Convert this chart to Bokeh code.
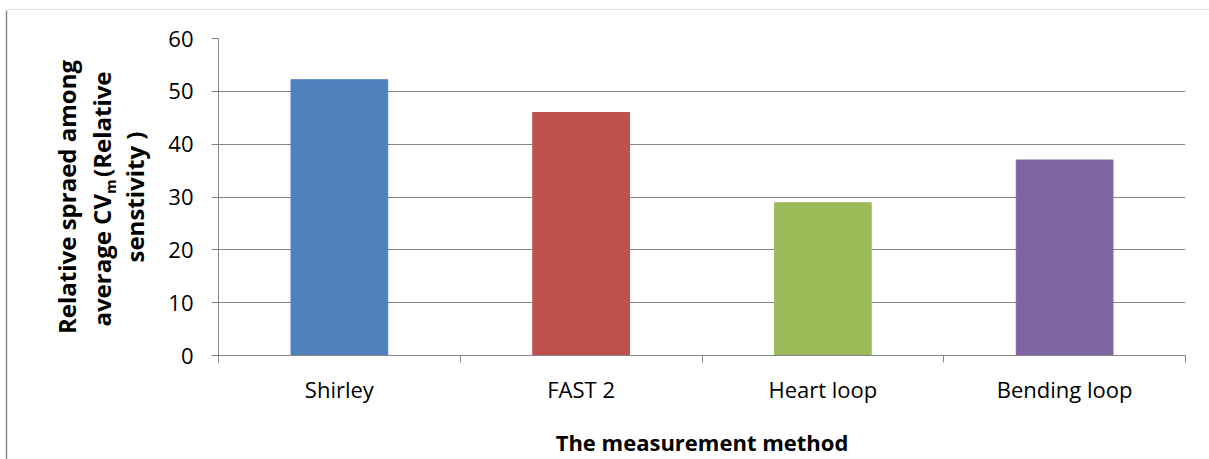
import math
from bokeh.plotting import figure
from bokeh.layouts import column, row
from bokeh.models import ColumnDataSource, FixedTicker, Range1d
from bokeh.core.properties import value
from bokeh.embed import file_html
from bokeh.resources import INLINE

categories = ["Shirley", "FAST 2", "Heart loop", "Bending loop"]
values = [52.2, 46.0, 28.9, 37.0]
colors = ["#4F81BD", "#C0504D", "#9BBB59", "#8064A2"]
y_ticks = [0, 10, 20, 30, 40, 50, 60]
x_title = "The measurement method"
y_line1 = "Relative spraed among"
y_line2a = "average CV"
y_sub = "m"
y_line2b = "(Relative"
y_line3 = "senstivity )"

FONT = "Open Sans"
GRID = "#868686"
BORDER = "#8a8a8a"

W, H = 1209, 459
TOP_H = 10          # top strip holding the chart border
LEFT_W = 160        # left panel holding the y title
FL, FR, FT, FB = 218, 1185, 38, 356   # frame edges in page px
DX = -16            # correction for rotated-text anchoring in the svg backend

# ---- top strip (chart border) ----
top = figure(width=W, height=TOP_H, output_backend="svg", toolbar_location=None,
             x_range=Range1d(0, W), y_range=Range1d(TOP_H, 0), min_border=0,
             x_axis_location=None, y_axis_location=None, frame_align=False)
top.outline_line_color = None
top.grid.visible = False
top.segment(x0=[6, 6], y0=[8, 8], x1=[W, 6], y1=[8, TOP_H], line_color=BORDER, line_width=1.5)

# ---- left panel (y-axis title) ----
LH = H - TOP_H
left = figure(width=LEFT_W, height=LH, output_backend="svg", toolbar_location=None,
              x_range=Range1d(0, LEFT_W), y_range=Range1d(LH, 0), min_border=0,
              x_axis_location=None, y_axis_location=None, frame_align=False)
left.outline_line_color = None
left.grid.visible = False
left.segment(x0=[6], y0=[0], x1=[6], y1=[LH], line_color=BORDER, line_width=1.5)

title_src = ColumnDataSource(dict(
    x=[82 + DX, 117 + DX, 117 + DX, 150 + DX],
    y=[196.5 - TOP_H, 193.5 - TOP_H, 176.5 - TOP_H, 196.5 - TOP_H],
    text=[y_line1, y_line2a, y_line2b, y_line3],
    align=["center", "right", "left", "center"],
))
left.text(x="x", y="y", text="text", text_align="align", source=title_src,
          angle=math.pi / 2, text_font=value(FONT), text_font_style="bold",
          text_font_size="24px", text_color="black", text_baseline="alphabetic")
left.text(x=[125 + DX], y=[193.5 - TOP_H], text=[y_sub], angle=math.pi / 2,
          text_font=value(FONT), text_font_style="bold", text_font_size="15px",
          text_color="black", text_baseline="alphabetic", text_align="left")

# ---- main chart ----
n = len(categories)
centers = [i + 0.5 for i in range(n)]
src = ColumnDataSource(dict(x=centers, top=values, color=colors, name=categories))

MW, MH = W - LEFT_W, H - TOP_H
p = figure(width=MW, height=MH, output_backend="svg", toolbar_location=None,
           x_range=Range1d(0, n), y_range=Range1d(0, 60), frame_align=False,
           min_border_left=FL - LEFT_W, min_border_right=W - FR,
           min_border_top=FT - TOP_H, min_border_bottom=H - FB)
p.outline_line_color = None
p.background_fill_color = "white"
p.border_fill_color = "white"

p.vbar(x="x", top="top", width=0.4, color="color", source=src)

# x axis
p.xaxis.ticker = FixedTicker(ticks=centers, minor_ticks=list(range(n + 1)))
p.xaxis.major_label_overrides = {c: lab for c, lab in zip(centers, categories)}
p.xaxis.major_tick_out = 0
p.xaxis.major_tick_in = 0
p.xaxis.minor_tick_out = 7
p.xaxis.minor_tick_in = 0
p.xaxis.minor_tick_line_color = GRID
p.xaxis.axis_line_color = GRID
p.xaxis.major_label_text_font = FONT
p.xaxis.major_label_text_font_size = "22px"
p.xaxis.major_label_text_color = "black"
p.xaxis.major_label_standoff = 11
p.xaxis.axis_label = x_title
p.xaxis.axis_label_text_font = FONT
p.xaxis.axis_label_text_font_size = "22px"
p.xaxis.axis_label_text_font_style = "bold"
p.xaxis.axis_label_text_color = "black"
p.xaxis.axis_label_standoff = 20

# y axis
p.yaxis.ticker = FixedTicker(ticks=y_ticks)
p.yaxis.major_tick_out = 7
p.yaxis.major_tick_in = 0
p.yaxis.minor_tick_line_color = None
p.yaxis.major_tick_line_color = GRID
p.yaxis.axis_line_color = GRID
p.yaxis.major_label_text_font = FONT
p.yaxis.major_label_text_font_size = "22px"
p.yaxis.major_label_text_color = "black"
p.yaxis.major_label_standoff = 18

p.xgrid.grid_line_color = None
p.ygrid.ticker = FixedTicker(ticks=y_ticks)
p.ygrid.grid_line_color = GRID
p.ygrid.grid_line_width = 1

layout = column(top, row(left, p, spacing=0), spacing=0)

open("out.html", "w").write(file_html(layout, INLINE))
